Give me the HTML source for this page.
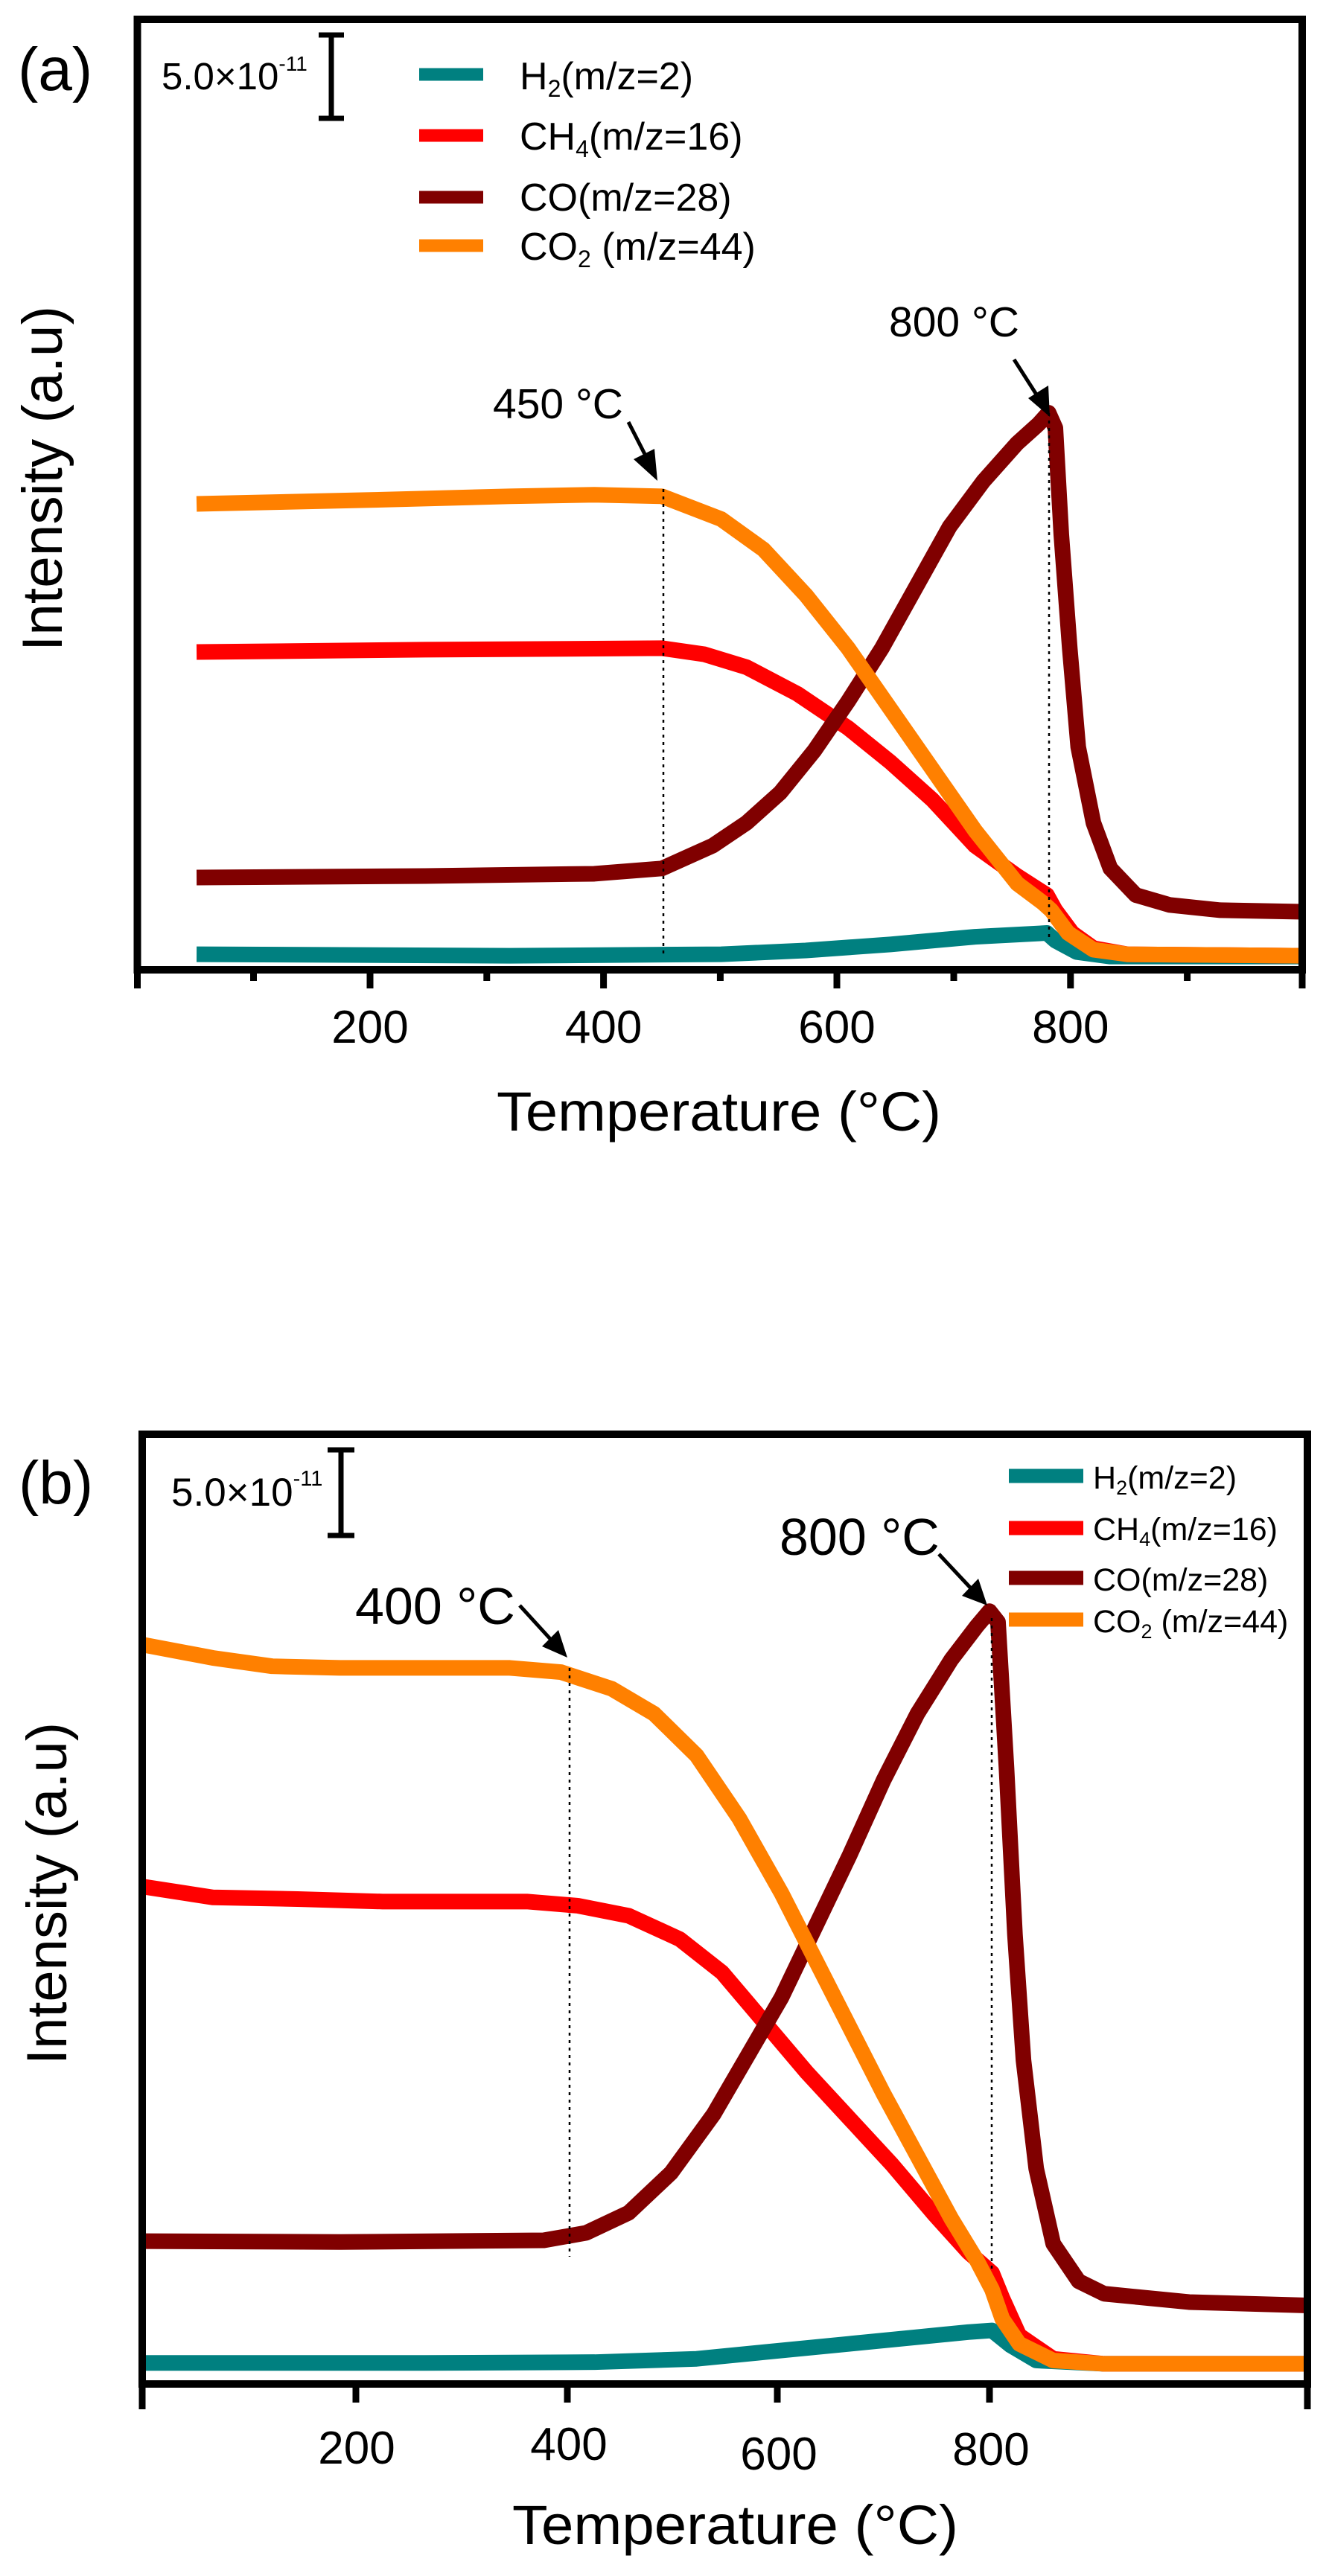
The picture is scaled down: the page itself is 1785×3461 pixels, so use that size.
<!DOCTYPE html>
<html><head><meta charset="utf-8"><style>
html,body{margin:0;padding:0;background:#fff}
svg{display:block}
text{font-family:"Liberation Sans",Arial,sans-serif;fill:#000}
</style></head><body>
<svg width="1785" height="3461" viewBox="0 0 1785 3461" xmlns="http://www.w3.org/2000/svg">

<!-- ===== Panel A ===== -->
<g transform="matrix(1.1364 0 0 1.0204 2.66 3.55)" fill="none" stroke-linejoin="round" stroke-linecap="butt">
<polyline vector-effect="non-scaling-stroke" stroke="#008080" stroke-width="21" points="230,1253 600,1255 850,1253 950,1248 1050,1240 1150,1230 1235,1225 1245,1235 1270,1250 1310,1256 1537,1256"/>
<polyline vector-effect="non-scaling-stroke" stroke="#ff0000" stroke-width="21" points="230,855 500,852 780,850 830,858 880,875 940,910 1000,955 1050,1000 1100,1050 1150,1110 1200,1150 1235,1175 1245,1195 1265,1225 1290,1245 1330,1253 1537,1255"/>
<polyline vector-effect="non-scaling-stroke" stroke="#800000" stroke-width="21" points="230,1152 500,1150 700,1147 780,1140 840,1110 880,1080 920,1040 960,985 1000,920 1040,850 1080,770 1120,690 1160,630 1200,580 1225,555 1237,540 1245,560 1252,700 1262,850 1272,980 1290,1080 1310,1140 1340,1175 1380,1188 1440,1195 1537,1197"/>
<polyline vector-effect="non-scaling-stroke" stroke="#ff8000" stroke-width="21" points="230,660 430,655 600,650 700,648 780,650 850,680 900,720 950,780 1000,850 1050,930 1100,1010 1150,1090 1200,1160 1230,1185 1240,1195 1260,1225 1290,1247 1330,1253 1537,1255"/>
</g>
<line x1="891" y1="657" x2="891" y2="1284" stroke="#000" stroke-width="2.5" stroke-dasharray="4,6"/>
<line x1="1409" y1="555" x2="1409" y2="1259" stroke="#000" stroke-width="2.5" stroke-dasharray="4,6"/>
<rect x="184.5" y="26" width="1564.5" height="1277" fill="none" stroke="#000" stroke-width="10"/>
<g stroke="#000" stroke-width="9">
<line x1="184.5" y1="1303" x2="184.5" y2="1328"/><line x1="497" y1="1303" x2="497" y2="1328"/><line x1="810.6" y1="1303" x2="810.6" y2="1328"/><line x1="1124" y1="1303" x2="1124" y2="1328"/><line x1="1437.8" y1="1303" x2="1437.8" y2="1328"/><line x1="1749" y1="1303" x2="1749" y2="1328"/>
<line x1="340.5" y1="1303" x2="340.5" y2="1318"/><line x1="653.8" y1="1303" x2="653.8" y2="1318"/><line x1="967.4" y1="1303" x2="967.4" y2="1318"/><line x1="1281" y1="1303" x2="1281" y2="1318"/><line x1="1594.6" y1="1303" x2="1594.6" y2="1318"/>
</g>
<g font-size="62" text-anchor="middle">
<text x="497" y="1401">200</text><text x="810.6" y="1401">400</text><text x="1124" y="1401">600</text><text x="1437.8" y="1401">800</text>
</g>
<text x="667" y="1519" font-size="74" textLength="597" lengthAdjust="spacingAndGlyphs">Temperature (°C)</text>
<text transform="translate(83,875) rotate(-90)" font-size="76" textLength="464" lengthAdjust="spacingAndGlyphs">Intensity (a.u)</text>
<text x="24" y="121" font-size="82">(a)</text>
<g stroke="#000" stroke-width="7"><line x1="445" y1="45" x2="445" y2="161"/><line x1="428" y1="47" x2="462" y2="47"/><line x1="428" y1="159" x2="462" y2="159"/></g>
<text x="217" y="120" font-size="51">5.0×10<tspan font-size="28" dy="-25">-11</tspan></text>
<g stroke-width="17">
<line x1="563" y1="100" x2="649" y2="100" stroke="#008080"/>
<line x1="563" y1="182" x2="649" y2="182" stroke="#ff0000"/>
<line x1="563" y1="265" x2="649" y2="265" stroke="#800000"/>
<line x1="563" y1="330" x2="649" y2="330" stroke="#ff8000"/>
</g>
<g font-size="52">
<text x="698" y="120">H<tspan font-size="32" dy="10">2</tspan><tspan dy="-10">(m/z=2)</tspan></text>
<text x="698" y="201">CH<tspan font-size="32" dy="10">4</tspan><tspan dy="-10">(m/z=16)</tspan></text>
<text x="698" y="283">CO(m/z=28)</text>
<text x="698" y="349">CO<tspan font-size="32" dy="10">2</tspan><tspan dy="-10"> (m/z=44)</tspan></text>
</g>
<g font-size="57">
<text x="662" y="562">450 °C</text>
<text x="1194" y="452">800 °C</text>
</g>
<g stroke="#000" stroke-width="5">
<line x1="844" y1="567" x2="869" y2="616"/>
<line x1="1362" y1="483" x2="1392" y2="530"/>
</g>
<g fill="#000">
<polygon points="883,646 851,617 879,603"/>
<polygon points="1410,560 1381,535 1408,518"/>
</g>

<!-- ===== Panel B ===== -->
<g transform="matrix(1.1403 0 0 1.1211 0.57 1702.8)" fill="none" stroke-linejoin="round">
<polyline vector-effect="non-scaling-stroke" stroke="#008080" stroke-width="21" points="167,1313 500,1313 700,1312 820,1308 900,1300 1000,1290 1080,1282 1140,1276 1168,1274 1190,1292 1220,1310 1300,1314 1540,1314"/>
<polyline vector-effect="non-scaling-stroke" stroke="#ff0000" stroke-width="21" points="167,742 250,755 350,757 450,760 620,760 680,765 740,777 800,805 850,845 900,905 950,965 1000,1020 1050,1075 1100,1135 1140,1180 1168,1205 1180,1235 1200,1280 1240,1308 1300,1314 1540,1314"/>
<polyline vector-effect="non-scaling-stroke" stroke="#800000" stroke-width="21" points="167,1167 400,1168 640,1166 690,1157 740,1133 790,1085 840,1015 880,945 920,875 960,790 1000,705 1040,615 1080,535 1120,470 1150,430 1165,412 1175,425 1185,600 1195,800 1205,950 1220,1080 1240,1170 1270,1215 1300,1230 1400,1240 1540,1244"/>
<polyline vector-effect="non-scaling-stroke" stroke="#ff8000" stroke-width="21" points="167,452 250,468 320,478 400,480 600,480 660,485 720,505 770,535 820,585 870,660 920,750 960,830 1000,910 1040,990 1080,1065 1120,1140 1150,1190 1168,1225 1180,1260 1200,1290 1240,1310 1300,1314 1540,1314"/>
</g>
<line x1="765" y1="2241" x2="765" y2="3032" stroke="#000" stroke-width="2.5" stroke-dasharray="4,6"/>
<line x1="1332" y1="2174" x2="1332" y2="3051" stroke="#000" stroke-width="2.5" stroke-dasharray="4,6"/>
<rect x="191" y="1927" width="1565" height="1276" fill="none" stroke="#000" stroke-width="10"/>
<g stroke="#000" stroke-width="9">
<line x1="191" y1="3203" x2="191" y2="3237"/><line x1="478" y1="3203" x2="478" y2="3228"/><line x1="762" y1="3203" x2="762" y2="3228"/><line x1="1044" y1="3203" x2="1044" y2="3228"/><line x1="1329" y1="3203" x2="1329" y2="3228"/><line x1="1756" y1="3203" x2="1756" y2="3237"/>
</g>
<g font-size="62" text-anchor="middle">
<text x="479" y="3310">200</text><text x="764" y="3305">400</text><text x="1046" y="3318">600</text><text x="1331" y="3312">800</text>
</g>
<text x="688" y="3418" font-size="74" textLength="599" lengthAdjust="spacingAndGlyphs">Temperature (°C)</text>
<text transform="translate(89,2774) rotate(-90)" font-size="76" textLength="460" lengthAdjust="spacingAndGlyphs">Intensity (a.u)</text>
<text x="25" y="2020" font-size="82">(b)</text>
<g stroke="#000" stroke-width="7"><line x1="458" y1="1945" x2="458" y2="2066"/><line x1="440" y1="1948" x2="476" y2="1948"/><line x1="440" y1="2063" x2="476" y2="2063"/></g>
<text x="230" y="2023" font-size="53">5.0×10<tspan font-size="29" dy="-27">-11</tspan></text>
<g stroke-width="19">
<line x1="1355" y1="1983" x2="1455" y2="1983" stroke="#008080"/>
<line x1="1355" y1="2053" x2="1455" y2="2053" stroke="#ff0000"/>
<line x1="1355" y1="2120" x2="1455" y2="2120" stroke="#800000"/>
<line x1="1355" y1="2176" x2="1455" y2="2176" stroke="#ff8000"/>
</g>
<g font-size="43">
<text x="1468" y="2000">H<tspan font-size="27" dy="8">2</tspan><tspan dy="-8">(m/z=2)</tspan></text>
<text x="1468" y="2069">CH<tspan font-size="27" dy="8">4</tspan><tspan dy="-8">(m/z=16)</tspan></text>
<text x="1468" y="2137">CO(m/z=28)</text>
<text x="1468" y="2193">CO<tspan font-size="27" dy="8">2</tspan><tspan dy="-8"> (m/z=44)</tspan></text>
</g>
<g font-size="70">
<text x="477" y="2182">400 °C</text>
<text x="1047" y="2089">800 °C</text>
</g>
<g stroke="#000" stroke-width="5">
<line x1="698" y1="2157" x2="740" y2="2203"/>
<line x1="1261" y1="2088" x2="1305" y2="2135"/>
</g>
<g fill="#000">
<polygon points="762,2227 728,2212 750,2190"/>
<polygon points="1326,2157 1292,2144 1314,2121"/>
</g>
</svg>
</body></html>
